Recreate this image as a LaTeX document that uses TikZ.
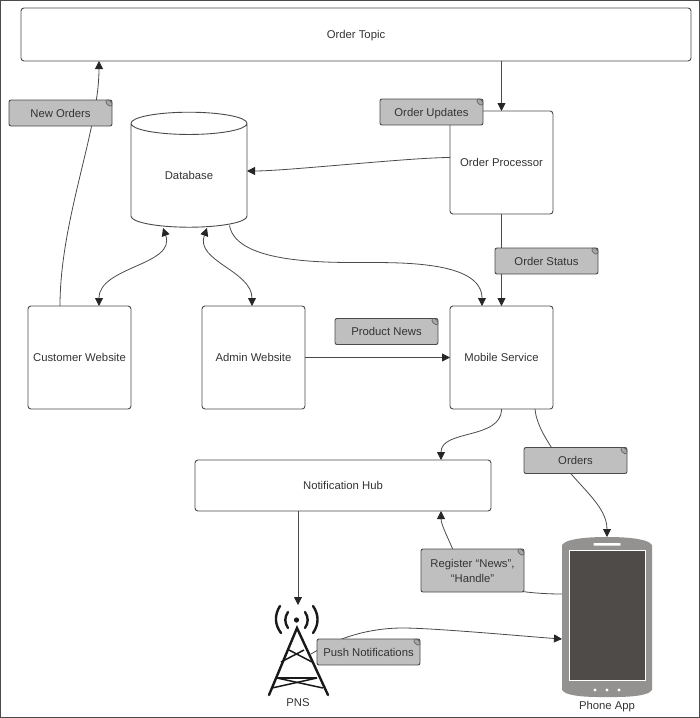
\documentclass[tikz,border=0pt]{standalone}
\usepackage{fontspec}
\setmainfont{Liberation Sans}
\usetikzlibrary{shapes.geometric,arrows.meta,positioning,calc,backgrounds}

\definecolor{inkgrey}{HTML}{4A4A48}
\definecolor{notegrey}{HTML}{BFBFBF}
\definecolor{phonegrey}{HTML}{939290}
\definecolor{screengrey}{HTML}{4E4B49}

\tikzset{
  boxnode/.style={draw=inkgrey, line width=0.9pt, rounded corners=3pt, outer sep=0pt, inner sep=0pt, align=center, text height=8pt, text depth=0pt},
  notenode/.style={draw=inkgrey, line width=0.9pt, rounded corners=2pt, fill=notegrey, outer sep=0pt, inner sep=0pt, minimum width=103pt, minimum height=26pt, align=center, text height=8pt, text depth=0pt},
  conn/.style={draw=inkgrey, line width=0.8pt, -{Triangle[length=8pt,width=8pt,color=black!85]}},
  bothconn/.style={draw=inkgrey, line width=0.8pt, {Triangle[length=8pt,width=8pt,color=black!85]}-{Triangle[length=8pt,width=8pt,color=black!85]}}
}

\begin{document}
\begin{tikzpicture}[x=1pt, y=-1pt, font=\fontsize{11.3}{15}\selectfont, text=black!80]
  \useasboundingbox (0,0) rectangle (700,718);
  \node[draw=inkgrey, line width=1.2pt, minimum width=698.8pt, minimum height=716.8pt, outer sep=0pt] (frame) at (350,359) {};

  % boxes
  \node[boxnode, minimum width=670pt, minimum height=53pt] (topic) at (356,34.5) {Order Topic};
  \node[boxnode, minimum width=103pt, minimum height=103pt] (processor) at (501.5,162.5) {Order Processor};
  \node[boxnode, minimum width=103pt, minimum height=103pt, below=92pt of processor] (mobile) {Mobile Service};
  \node[boxnode, minimum width=103pt, minimum height=103pt, left=145pt of mobile] (admin) {Admin Website};
  \node[boxnode, minimum width=103pt, minimum height=103pt, left=71pt of admin] (customer) {Customer Website};
  \node[boxnode, minimum width=296pt, minimum height=51pt] (hub) at (343,485.5) {Notification Hub};
  \node[draw=inkgrey, line width=0.9pt, cylinder, shape border rotate=90, aspect=0.46, minimum width=116pt, minimum height=115pt, outer sep=0pt, inner sep=0pt] (database) at (189,175.5) {Database};

  % phone
  \node[minimum width=90pt, minimum height=160pt, outer sep=0pt] (phone) at (607,617) {};
  \fill[phonegrey] ($(phone.north west)+(0,8)$) to[out=60,in=180,looseness=0.5] (phone.north) to[out=0,in=120,looseness=0.5] ($(phone.north east)+(0,8)$) -- ($(phone.south east)+(0,-7)$) to[out=-120,in=0,looseness=0.5] (phone.south) to[out=180,in=-60,looseness=0.5] ($(phone.south west)+(0,-7)$) -- cycle;
  \node[draw=white, line width=1pt, fill=screengrey, minimum width=76pt, minimum height=130pt, outer sep=0pt] (screen) at (607,615) {};
  \node[fill=white, rounded corners=0.5pt, minimum width=27pt, minimum height=2.5pt, inner sep=0pt, below=6pt of phone.north] (speaker) {};
  \foreach \dotx in {-12,0,12}
    \fill[white] ($(phone.south)+(\dotx,-7)$) circle (1.6pt);
  \node[below=0.5pt of phone.south] (phonelabel) {Phone App};

  % tower
  \node[minimum width=60pt, minimum height=90pt, outer sep=0pt] (pns) at (298,650) {};
  \begin{scope}[line width=2.4pt, black!90, line cap=round]
    \draw ($(pns.center)+(-29,45)$) -- ($(pns.center)+(-1,-22)$) -- ($(pns.center)+(30,45)$);
    \fill ($(pns.center)+(-1.5,-30)$) circle (2.6pt);
    \draw ($(pns.center)+(-10,-38)$) to[bend right=35] ($(pns.center)+(-10,-22)$);
    \draw ($(pns.center)+(7,-38)$) to[bend left=35] ($(pns.center)+(7,-22)$);
    \draw ($(pns.center)+(-18,-44)$) to[bend right=35] ($(pns.center)+(-17,-17)$);
    \draw ($(pns.center)+(15,-44)$) to[bend left=35] ($(pns.center)+(15,-17)$);
  \end{scope}
  \begin{scope}[line width=1.5pt, black!90]
    \draw ($(pns.center)+(-9,0)$) -- ($(pns.center)+(14,12)$);
    \draw ($(pns.center)+(6,0)$) -- ($(pns.center)+(-17,12)$);
    \draw ($(pns.center)+(-21,28)$) -- ($(pns.center)+(19,28)$);
    \draw ($(pns.center)+(-21,28)$) -- ($(pns.center)+(25,38)$);
    \draw ($(pns.center)+(19,28)$) -- ($(pns.center)+(-26,38)$);
  \end{scope}
  \node[below=0.5pt of pns.south] (pnslabel) {PNS};

  % notes
  \node[notenode] (neworders) at (60.5,113) {New Orders};
  \node[notenode] (orderupdates) at (431.5,112) {Order Updates};
  \node[notenode, below=34pt of processor, xshift=45pt] (orderstatus) {Order Status};
  \node[notenode] (productnews) at (386.5,331.5) {Product News};
  \node[notenode] (orders) at (575.5,460.5) {Orders};
  \node[notenode, minimum height=43pt, text height=, text depth=] (register) at (472.5,570.5) {Register “News”,\\“Handle”};
  \node[notenode] (pushnote) at (368.5,652) {Push Notifications};
  \foreach \notename in {neworders,orderupdates,orderstatus,productnews,orders,register,pushnote}
    \draw[inkgrey, fill=black!35, line width=0.5pt] ($(\notename.north east)+(-3,3)$) ellipse[x radius=3.8pt, y radius=2.3pt, rotate=-45];

  % connectors
  \begin{scope}[on background layer]
    \draw[conn] ($(customer.north)+(-19.5,0)$) .. controls ($(customer.north)+(-19.5,-86)$) and ($(topic.south west)+(78,69)$) .. ($(topic.south west)+(78,0)$);
    \draw[conn] (topic.south -| processor.north) -- (processor.north);
    \draw[conn] ($(processor.west)+(0,-5)$) to[out=180,in=0,looseness=0.5] ($(database.center)+(58,-4.5)$);
    \draw[conn] (processor.south) -- (mobile.north);
    \draw[conn] ($(database.center)+(40.5,50)$) to[out=-80,in=180,looseness=0.7] ($(database.center)+(181,87)$) to[out=0,in=90,looseness=0.9] ($(mobile.north)+(-19.5,0)$);
    \draw[bothconn] ($(customer.north)+(19.5,0)$) to[out=90,in=-70] ($(database.center)+(-26,52.5)$);
    \draw[bothconn] ($(admin.north)+(-1.5,0)$) to[out=90,in=-110] ($(database.center)+(18,52.5)$);
    \draw[conn] (admin.east) -- (mobile.west);
    \draw[conn] (mobile.south) to[out=-90,in=90] ($(hub.north)+(98,0)$);
    \draw[conn] ($(mobile.south)+(33.5,0)$) to[out=-85,in=125,looseness=0.8] ($(orders.center)+(-15,0)$) to[out=-55,in=90,looseness=0.9] (phone.north);
    \draw[conn] ($(phone.west)+(0,-23)$) to[out=180,in=-70,looseness=0.8] ($(register.north west)+(34,6)$) to[out=110,in=-90,looseness=0.8] ($(hub.south)+(98,0)$);
    \draw[conn] (hub.south -| pns.north) -- (pns.north);
    \draw[conn] ($(pns.center)+(13,4)$) .. controls ($(pns.center)+(41,-13)$) and ($(pns.center)+(72,-22)$) .. ($(pns.center)+(105,-22)$) to[out=0,in=176,looseness=0.5] ($(phone.west)+(0,22)$);
  \end{scope}
\end{tikzpicture}
\end{document}
